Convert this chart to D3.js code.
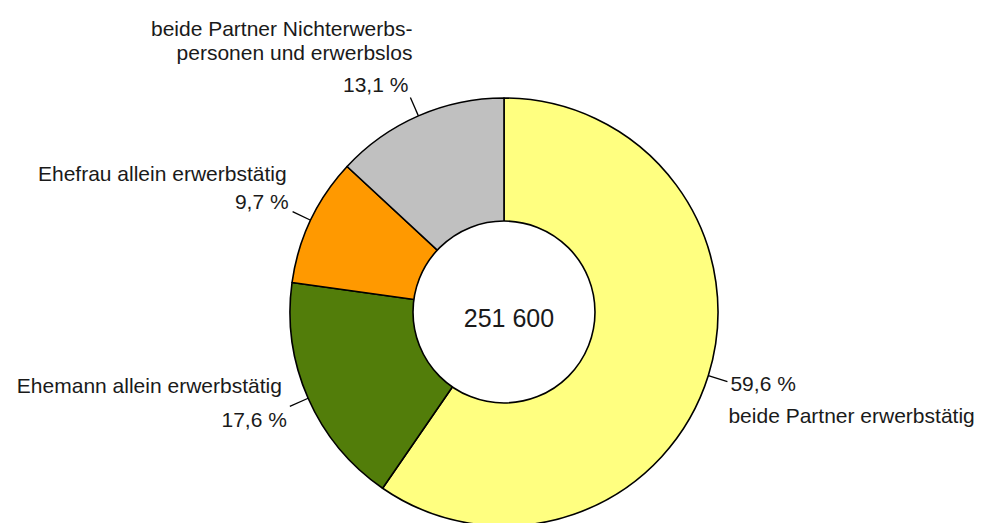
<!DOCTYPE html>
<html><head><meta charset="utf-8">
<script src="https://cdn.jsdelivr.net/npm/d3@7"></script>
<style>
html,body{margin:0;padding:0;background:#fff;}
svg{display:block;font-family:"Liberation Sans",Arial,sans-serif;}
</style></head>
<body><svg id="c" width="981" height="523"></svg>
<script>
// Data
const categories = ["beide Partner erwerbstätig", "Ehemann allein erwerbstätig", "Ehefrau allein erwerbstätig", "beide Partner Nichterwerbs-|personen und erwerbslos"];
const shares = [59.6, 17.6, 9.7, 13.1];
const percentLabels = ["59,6 %", "17,6 %", "9,7 %", "13,1 %"];
const colors = ["#FFFF80", "#527D0A", "#FF9900", "#C0C0C0"];
const totalLabel = "251 600";

const svg = d3.select("#c");
const cx = 504, cy = 312, R = 214, r = 91, leadR = 234;
const g = svg.append("g").attr("transform", `translate(${cx},${cy})`);

const pie = d3.pie().sort(null).value(d => d)(shares);
const arc = d3.arc().innerRadius(0).outerRadius(R);

g.selectAll("path.s").data(pie).join("path")
  .attr("class","s")
  .attr("d", arc)
  .attr("fill", (d,i) => colors[i])
  .attr("stroke", "#000").attr("stroke-width", 1.6).attr("stroke-linejoin","round");

g.append("circle").attr("r", r).attr("fill", "#fff").attr("stroke", "#000").attr("stroke-width", 1.6);

g.append("text").attr("x", 5).attr("y", 15).attr("text-anchor","middle")
  .attr("font-size", 25).attr("fill","#1a1a1a").text(totalLabel);

const pt = (a, rad) => [rad*Math.sin(a), -rad*Math.cos(a)];

// label layout relative to leader-line end (offsets in px)
const layout = [
  {anchor:"start", pct:[3,9],  name:[1,41]},
  {anchor:"end",   pct:[-3,21], name:[-8,-13]},
  {anchor:"end",   pct:[-4,-3], name:[-6,-31]},
  {anchor:"end",   pct:[-2,-6], name:[2,-62]}
];

pie.forEach((d,i) => {
  const a = (d.startAngle + d.endAngle)/2;
  const p1 = pt(a, R), p2 = pt(a, leadR);
  g.append("line").attr("x1",p1[0]).attr("y1",p1[1]).attr("x2",p2[0]).attr("y2",p2[1])
    .attr("stroke","#000").attr("stroke-width",1.3);
  const L = layout[i];
  g.append("text").attr("x", p2[0]+L.pct[0]).attr("y", p2[1]+L.pct[1])
    .attr("text-anchor", L.anchor).attr("font-size", 21).attr("fill","#1a1a1a")
    .text(percentLabels[i]);
  const lines = categories[i].split("|");
  const t = g.append("text").attr("text-anchor", L.anchor).attr("font-size", 21).attr("fill","#1a1a1a");
  lines.forEach((ln, k) => {
    t.append("tspan").attr("x", p2[0]+L.name[0]).attr("y", p2[1]+L.name[1] + k*24).text(ln);
  });
});
</script>
</body></html>
